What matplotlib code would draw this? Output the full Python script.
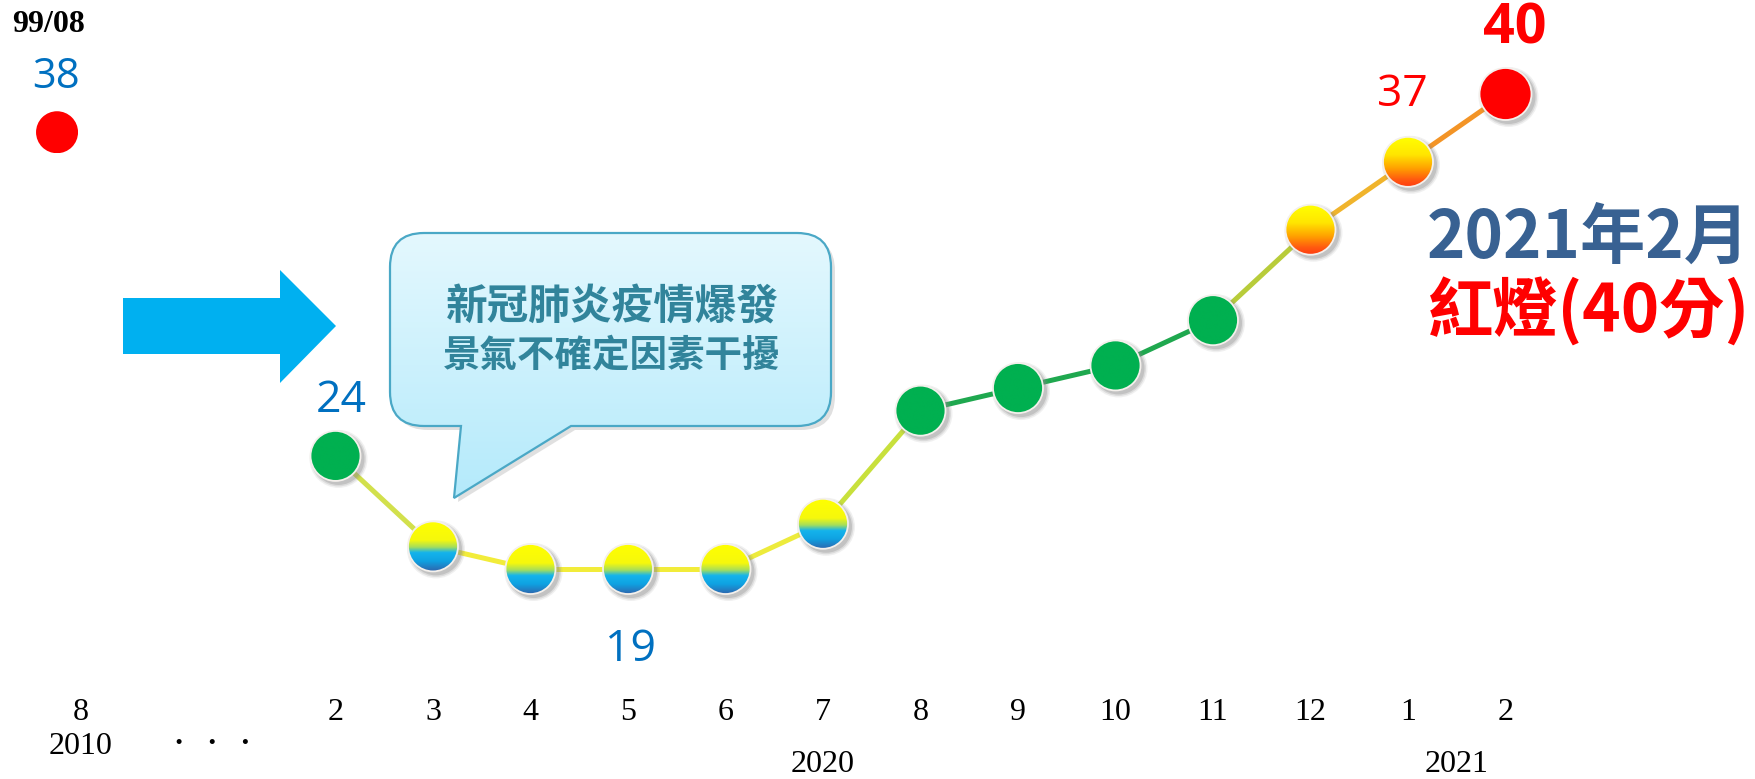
import matplotlib
matplotlib.use('Agg')
import matplotlib.pyplot as plt
import matplotlib.transforms as mtransforms
from matplotlib.patches import Circle, PathPatch, Polygon
from matplotlib.path import Path
from matplotlib.colors import LinearSegmentedColormap
import numpy as np

plt.rcParams['font.family'] = ['Open Sans', 'Noto Sans CJK TC', 'DejaVu Sans']

W, H = 1756, 779

# business monitoring score, 2020/02 .. 2021/02
months = ['2', '3', '4', '5', '6', '7', '8', '9', '10', '11', '12', '1', '2']
scores = [24, 20, 19, 19, 19, 21, 26, 27, 28, 30, 34, 37, 40]
lights = ['green', 'yellow_blue', 'yellow_blue', 'yellow_blue', 'yellow_blue', 'yellow_blue',
          'green', 'green', 'green', 'green', 'yellow_red', 'yellow_red', 'red']
labelled = [0, 3, 11, 12]          # points that carry a value label
years = ['2020', '2021']

# the old reference point (2010/08)
first_month = '8'
first_year = '2010'
first_score = 38
first_tag = '99/08'

callout_lines = ['新冠肺炎疫情爆發', '景氣不確定因素干擾']
headline = '2021年2月'
subline = '紅燈(40分)'

# ---- colours ----
seg_colors = ['#D2E04C', '#F2EC3A', '#F2EC3A', '#F2EC3A', '#EDEB3C', '#C8E03C',
              '#1FA84F', '#1FA84F', '#1FA84F', '#B8CC3A', '#F0B42C', '#F39426']
cmaps = {
    'green': LinearSegmentedColormap.from_list('g', ['#00B050', '#00B050']),
    'red': LinearSegmentedColormap.from_list('r', ['#FF0000', '#FF0000']),
    'yellow_blue': LinearSegmentedColormap.from_list(
        'yb', [(0, '#FFFF00'), (0.38, '#F6F80C'), (0.52, '#A6DE5A'), (0.63, '#14B4EC'),
               (0.8, '#0FA2E2'), (1, '#2E66AE')]),
    'yellow_red': LinearSegmentedColormap.from_list(
        'yr', [(0, '#FFFF00'), (0.35, '#FFE600'), (0.62, '#FFA200'), (0.85, '#FF5A10'),
               (1, '#FF3A10')]),
}

fig = plt.figure(figsize=(W / 100, H / 100), dpi=100)
ax = fig.add_axes([0, 0, 1, 1])
ax.set_axis_off()
XLIM = (-335.5 / 97.5, (W - 335.5) / 97.5)
YLIM = (40 - (H - 94) / 22.62, 40 + 94 / 22.62)
ax.set_xlim(*XLIM)
ax.set_ylim(*YLIM)

x = np.arange(len(scores))
first_x = -2.856


def fig_xy(px, py):
    return px / W, 1 - py / H


def draw_ball(xv, yv, light, r=25, shadow=True, edge=True, dy=0):
    base = mtransforms.ScaledTranslation(xv, yv, ax.transData)
    if shadow:
        for k, a in [(4, 0.12), (2.5, 0.2), (1, 0.3)]:
            sh = mtransforms.Affine2D().scale(r + k).translate(3, -3 + dy) + base
            ax.add_patch(Circle((0, 0), 1, transform=sh, facecolor='#8a8a8a',
                                edgecolor='none', alpha=a, zorder=3))
    tr = mtransforms.Affine2D().scale(r).translate(0, dy) + base
    circ = Circle((0, 0), 1, transform=tr, facecolor='none',
                  edgecolor='#F4F0EC' if edge else 'none', lw=1.3, zorder=5)
    ax.add_patch(circ)
    grad = np.linspace(0, 1, 256).reshape(-1, 1)
    im = ax.imshow(grad, cmap=cmaps[light], extent=(-1, 1, -1, 1), origin='upper',
                   transform=tr, aspect='auto', interpolation='bilinear', zorder=4)
    im.set_clip_path(circ)


# connecting line
for k in range(len(scores) - 1):
    ax.plot(x[k:k + 2], scores[k:k + 2], color=seg_colors[k], lw=3.6,
            solid_capstyle='round', zorder=2)

for xi, s, lt in zip(x, scores, lights):
    draw_ball(xi, s, lt, r=26 if xi == len(scores) - 1 else 25)

# the 2010 dot sits on its own, slightly higher than the main scale
draw_ball(first_x, first_score, 'red', r=21, shadow=False, edge=False, dy=7)

# value labels
for i in labelled:
    s = scores[i]
    if i == len(scores) - 1:
        ax.annotate(str(s), (x[i], s), xytext=(7, 47), textcoords='offset points',
                    ha='center', va='center', fontsize=40, fontweight='bold', color='#FF0000')
    elif s >= 37:
        ax.annotate(str(s), (x[i], s), xytext=(-4, 48), textcoords='offset points',
                    ha='center', va='center', fontsize=32, color='#FF0000')
    elif i == 3:
        ax.annotate(str(s), (x[i], s), xytext=(2, -58), textcoords='offset points',
                    ha='center', va='center', fontsize=32, color='#0070C0')
    else:
        ax.annotate(str(s), (x[i], s), xytext=(4, 40), textcoords='offset points',
                    ha='center', va='center', fontsize=32, color='#0070C0')
ax.annotate(str(first_score), (first_x, first_score), xytext=(-1, 45), textcoords='offset points',
            ha='center', va='center', fontsize=30, color='#0070C0')
ax.text(*fig_xy(49, 25), first_tag, transform=fig.transFigure, ha='center', va='center',
        fontsize=23, fontweight='bold', family='Liberation Serif', color='black')

# month axis
xy_tr = mtransforms.blended_transform_factory(ax.transData, fig.transFigure)
for xi, m in zip(x, months):
    ax.text(xi, 1 - 713 / H, m, transform=xy_tr, ha='center', va='center',
            fontsize=23, family='Liberation Serif')
ax.text(first_x + 0.246, 1 - 713 / H, first_month, transform=xy_tr, ha='center', va='center',
        fontsize=23, family='Liberation Serif')
ax.text(first_x + 0.246, 1 - 747 / H, first_year, transform=xy_tr, ha='center', va='center',
        fontsize=23, family='Liberation Serif')
ax.text(*fig_xy(212, 744), '·   ·   ·', transform=fig.transFigure, ha='center', va='center',
        fontsize=22, fontweight='bold', family='Liberation Serif')
ax.text(x[5], 1 - 764 / H, years[0], transform=xy_tr, ha='center', va='center',
        fontsize=23, family='Liberation Serif')
ax.text((x[11] + x[12]) / 2, 1 - 764 / H, years[1], transform=xy_tr, ha='center', va='center',
        fontsize=23, family='Liberation Serif')

# blue arrow
arrow_px = [(123, 298), (280, 298), (280, 270), (336, 326), (280, 383), (280, 354), (123, 354)]
ax.add_patch(Polygon([fig_xy(*p) for p in arrow_px], closed=True, transform=fig.transFigure,
                     facecolor='#00B0F0', edgecolor='none', zorder=3))

# callout bubble
L, R, T, B, r = 390, 831, 233, 426, 34
pts = [(L + r, T), (R - r, T), (R, T), (R, T + r), (R, B - r), (R, B), (R - r, B),
       (571, B), (454, 498), (461, B), (L + r, B), (L, B), (L, B - r), (L, T + r), (L, T),
       (L + r, T), (L + r, T)]
codes = [Path.MOVETO, Path.LINETO, Path.CURVE3, Path.CURVE3, Path.LINETO, Path.CURVE3,
         Path.CURVE3, Path.LINETO, Path.LINETO, Path.LINETO, Path.LINETO, Path.CURVE3,
         Path.CURVE3, Path.LINETO, Path.CURVE3, Path.CURVE3, Path.CLOSEPOLY]
bubble = Path([fig_xy(*p) for p in pts], codes)
shadow_path = Path([fig_xy(px + 4, py + 4) for px, py in pts], codes)
ax.add_patch(PathPatch(shadow_path, transform=fig.transFigure, facecolor='#9a9a9a',
                       edgecolor='none', alpha=0.3, zorder=3))
bub = PathPatch(bubble, transform=fig.transFigure, facecolor='none', edgecolor='#4AA8C6',
                lw=1.6, zorder=5)
ax.add_patch(bub)
bgrad = np.linspace(0, 1, 256).reshape(-1, 1)
bcmap = LinearSegmentedColormap.from_list('bub', ['#E4F8FE', '#B4EAFB'])
x0, y0 = fig_xy(L, 498)
x1, y1 = fig_xy(R, T)
bim = ax.imshow(bgrad, cmap=bcmap, extent=(x0, x1, y0, y1), origin='upper',
                transform=fig.transFigure, aspect='auto', zorder=4)
bim.set_clip_path(bub)
ax.text(*fig_xy(612, 308), callout_lines[0], transform=fig.transFigure, ha='center', va='center',
        fontsize=30, fontweight='heavy', color='#31849B', family='Noto Sans CJK TC', zorder=6)
ax.text(*fig_xy(612, 355), callout_lines[1], transform=fig.transFigure, ha='center', va='center',
        fontsize=27, fontweight='heavy', color='#31849B', family='Noto Sans CJK TC', zorder=6)

# headline on the right
ax.text(*fig_xy(1750, 238), headline, transform=fig.transFigure, ha='right', va='center',
        fontsize=47, fontweight='bold', color='#386192', family='Noto Sans CJK TC')
ax.text(*fig_xy(1750, 312), subline, transform=fig.transFigure, ha='right', va='center',
        fontsize=47, fontweight='bold', color='#FF0000', family='Noto Sans CJK TC')

ax.set_xlim(*XLIM)
ax.set_ylim(*YLIM)
fig.savefig('out.png', dpi=100, facecolor='white')
